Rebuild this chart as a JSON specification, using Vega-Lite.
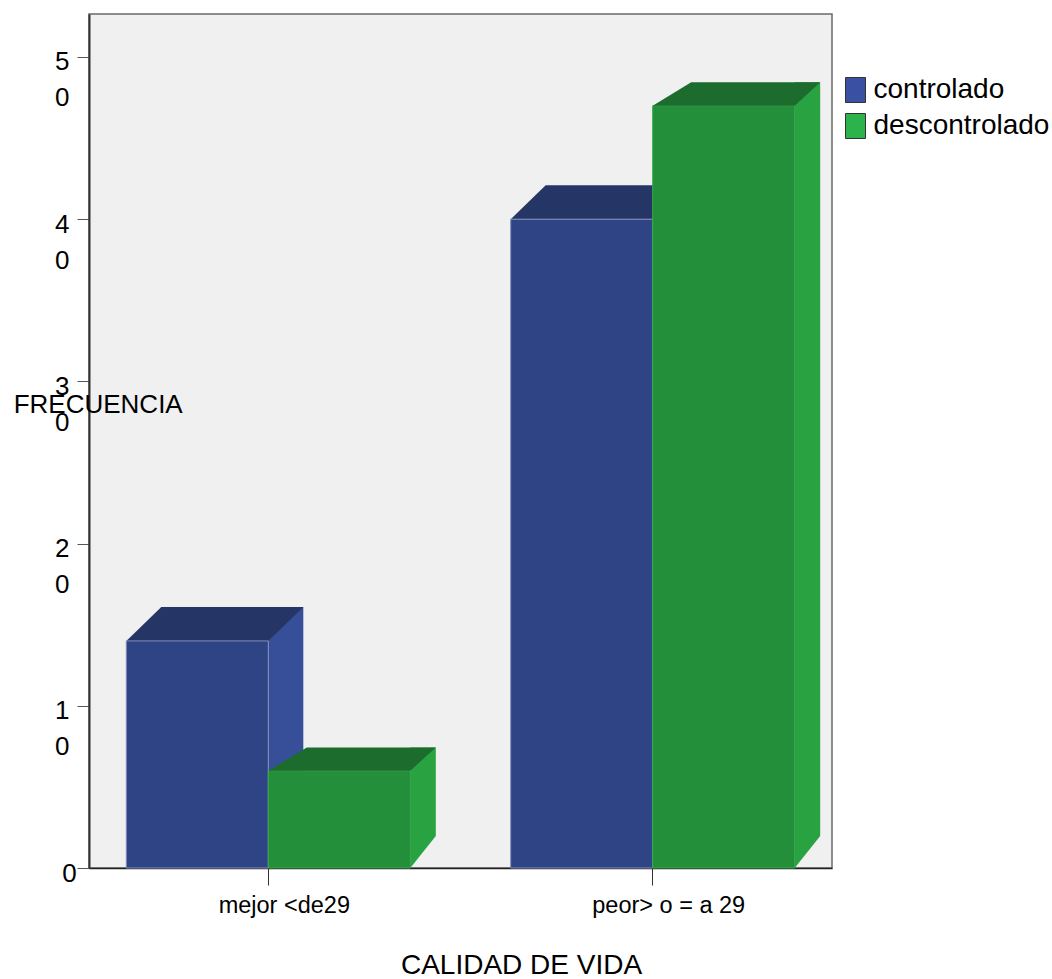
{
  "$schema": "https://vega.github.io/schema/vega-lite/v6.json",
  "width": 743,
  "height": 854,
  "autosize": {"type": "none"},
  "padding": {"left": 89, "top": 14, "right": 220, "bottom": 111},
  "background": "white",
  "config": {
    "font": "Liberation Sans",
    "view": {"fill": "#f0f0f0", "stroke": "#6a6a6a", "strokeWidth": 1.5}
  },
  "data": {
    "values": [
      {"calidad": "mejor <de29", "control": "controlado", "frecuencia": 14},
      {"calidad": "mejor <de29", "control": "descontrolado", "frecuencia": 6},
      {"calidad": "peor> o = a 29", "control": "controlado", "frecuencia": 40},
      {"calidad": "peor> o = a 29", "control": "descontrolado", "frecuencia": 47}
    ]
  },
  "encoding": {
    "x": {
      "field": "calidad",
      "type": "nominal",
      "sort": ["mejor <de29", "peor> o = a 29"],
      "scale": {"paddingInner": 0.261, "paddingOuter": 0.097},
      "axis": {
        "title": "CALIDAD DE VIDA",
        "labelAngle": 0,
        "labelFontSize": 23.5,
        "labelColor": "#000",
        "labelOffset": 16,
        "labelPadding": 8.6,
        "tickSize": 17,
        "tickColor": "#333",
        "tickWidth": 1,
        "domainColor": "#222",
        "domainWidth": 1.5,
        "titleFontSize": 28,
        "titleFontWeight": "normal",
        "titleColor": "#000",
        "titleX": 432,
        "titleY": 105,
        "titleAlign": "center",
        "titleBaseline": "alphabetic"
      }
    },
    "y": {
      "field": "frecuencia",
      "type": "quantitative",
      "scale": {"domain": [0, 52.65], "nice": false},
      "axis": {
        "title": "FRECUENCIA",
        "values": [0, 10, 20, 30, 40, 50],
        "grid": false,
        "labelExpr": "datum.value == 0 ? '0' : [substring(datum.label, 0, 1), substring(datum.label, 1)]",
        "labelFontSize": 26,
        "labelLineHeight": 36,
        "labelBaseline": "top",
        "labelOffset": -8,
        "labelPadding": 8,
        "labelAlign": {"condition": {"test": "datum.value == 0", "value": "center"}, "value": "right"},
        "labelColor": "#000",
        "labelFlush": false,
        "labelOverlap": false,
        "tickSize": 12,
        "tickColor": "#555",
        "domainColor": "#333",
        "domainWidth": 2,
        "titleAngle": 0,
        "titleX": 8.7,
        "titleY": 390,
        "titleAlign": "center",
        "titleBaseline": "middle",
        "titleFontSize": 26,
        "titleFontWeight": "normal",
        "titleColor": "#000"
      }
    }
  },
  "layer": [
    {
      "transform": [{"filter": "datum.control == 'controlado'"}],
      "mark": {"type": "bar", "width": 35, "xOffset": 17.5, "yOffset": -34, "fill": "#374f99"},
      "encoding": {"y2": {"datum": 0}}
    },
    {
      "transform": [{"filter": "datum.control == 'controlado'"}],
      "mark": {"type": "point", "shape": "M-142,0L0,0L35,-34L-107,-34Z", "size": 4, "filled": true, "fill": "#253566", "opacity": 1, "strokeWidth": 0}
    },
    {
      "transform": [{"filter": "datum.control == 'controlado'"}],
      "mark": {"type": "bar", "fill": "#2f4484", "stroke": "#8590bb", "strokeWidth": 1},
      "encoding": {
        "xOffset": {"field": "control", "type": "nominal", "scale": {"domain": ["controlado", "descontrolado"], "paddingInner": 0, "paddingOuter": 0}},
        "y2": {"datum": 0}
      }
    },
    {
      "transform": [{"filter": "datum.control == 'descontrolado'"}],
      "mark": {"type": "bar", "fill": "#248f3b", "stroke": "#36a84b", "strokeWidth": 1},
      "encoding": {
        "xOffset": {"field": "control", "type": "nominal", "scale": {"domain": ["controlado", "descontrolado"], "paddingInner": 0, "paddingOuter": 0}},
        "y2": {"datum": 0}
      }
    },
    {
      "transform": [{"filter": "datum.control == 'descontrolado'"}],
      "mark": {"type": "bar", "width": 25.5, "xOffset": 154.75, "yOffset": -23.3, "y2Offset": -32, "fill": "#29a341"},
      "encoding": {"y2": {"datum": 0}}
    },
    {
      "transform": [{"filter": "datum.control == 'descontrolado'"}],
      "mark": {"type": "point", "shape": "M142,-32L142,0L167.5,-32Z", "size": 4, "filled": true, "fill": "#29a341", "opacity": 1, "strokeWidth": 0},
      "encoding": {"y": {"datum": 0}}
    },
    {
      "transform": [{"filter": "datum.control == 'descontrolado'"}],
      "mark": {"type": "point", "shape": "M0,0L142,0L167.5,-23.3L38.5,-23.3Z", "size": 4, "filled": true, "fill": "#1c6d2d", "opacity": 1, "strokeWidth": 0}
    },
    {
      "mark": {"type": "point", "size": 0, "filled": true, "opacity": 1},
      "encoding": {
        "color": {
          "field": "control",
          "type": "nominal",
          "scale": {"domain": ["controlado", "descontrolado"], "range": ["#3a50a2", "#2db34b"]},
          "legend": {
            "title": null,
            "orient": "none",
            "legendX": 752.5,
            "legendY": 62,
            "symbolType": "M-0.8,-1H0.8V1H-0.8Z",
            "symbolSize": 625,
            "symbolStrokeColor": "#333",
            "symbolStrokeWidth": 1,
            "symbolOpacity": 1,
            "labelFontSize": 28,
            "labelLimit": 0,
            "labelColor": "#000",
            "labelOffset": 4,
            "rowPadding": 6
          }
        }
      }
    }
  ]
}
